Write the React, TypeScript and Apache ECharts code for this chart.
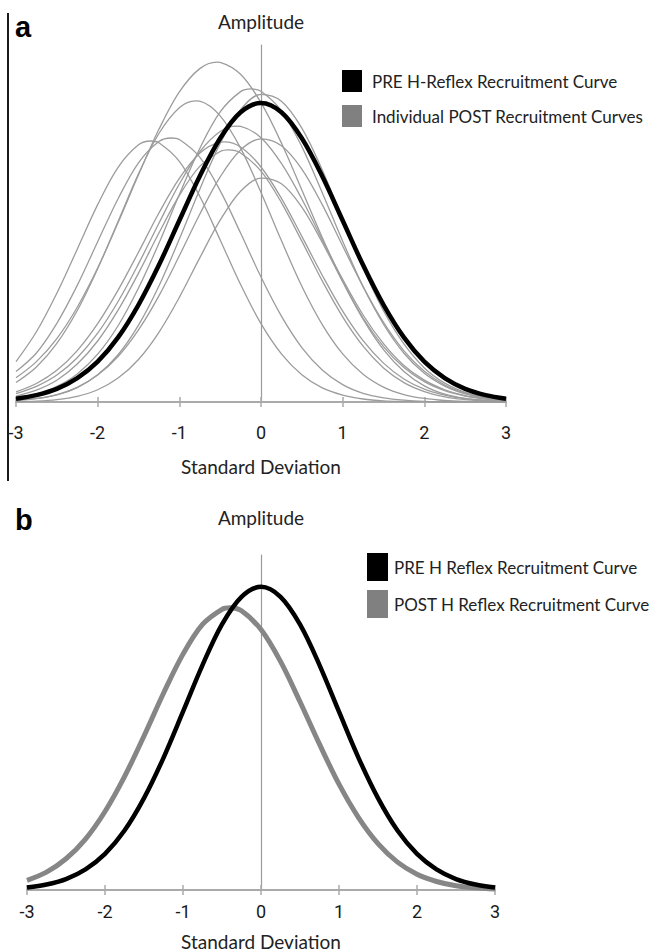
import React, { useEffect, useRef } from 'react';
import * as echarts from 'echarts';

const xValues = [-3, -2.75, -2.5, -2.25, -2, -1.75, -1.5, -1.25, -1, -0.75, -0.5, -0.25, 0, 0.25, 0.5, 0.75, 1, 1.25, 1.5, 1.75, 2, 2.25, 2.5, 2.75, 3];

// Panel a: amplitude relative to PRE peak (=100)
const preTop = [1.1, 2.3, 4.4, 8.0, 13.5, 21.6, 32.5, 45.8, 60.7, 75.5, 88.2, 96.9, 100, 96.9, 88.2, 75.5, 60.7, 45.8, 32.5, 21.6, 13.5, 8.0, 4.4, 2.3, 1.1];
const postTop1 = [8.1, 13.5, 21.2, 31.7, 44.8, 60.0, 76.0, 91.2, 103.7, 111.5, 113.6, 109.6, 100.1, 86.6, 70.9, 55.0, 40.4, 28.1, 18.5, 11.5, 6.8, 3.8, 2.0, 1.0, 0.5];
const postTop2 = [1.3, 2.7, 5.2, 9.4, 16.0, 25.5, 38.1, 53.1, 69.4, 84.8, 97.0, 103.8, 103.9, 97.4, 85.4, 70.0, 53.8, 38.6, 26.0, 16.3, 9.6, 5.3, 2.7, 1.3, 0.6];
const postTop3 = [0.5, 1.1, 2.4, 4.8, 9.1, 15.8, 25.7, 38.8, 54.5, 71.1, 86.5, 97.8, 102.9, 100.6, 91.6, 77.6, 61.1, 44.8, 30.5, 19.4, 11.4, 6.3, 3.2, 1.5, 0.7];
const postTop4 = [6.5, 11.7, 19.6, 30.6, 44.6, 60.4, 76.3, 89.8, 98.4, 100.6, 95.7, 84.9, 70.1, 54.0, 38.7, 25.9, 16.1, 9.3, 5.0, 2.5, 1.2, 0.5, 0.2, 0.1, 0.0];
const postTop5 = [2.8, 5.2, 9.0, 14.8, 23.0, 33.6, 46.2, 59.8, 72.9, 83.7, 90.5, 92.2, 88.4, 79.8, 67.9, 54.3, 41.0, 29.1, 19.5, 12.2, 7.3, 4.1, 2.1, 1.1, 0.5];
const postTop6 = [13.5, 23.5, 36.4, 51.1, 66.0, 78.5, 86.0, 86.7, 80.5, 68.8, 54.2, 39.3, 26.2, 16.1, 9.1, 4.7, 2.3, 1.0, 0.4, 0.2, 0.1, 0, 0, 0, 0];
const postTop7 = [10.2, 16.4, 26.3, 39.0, 53.6, 68.0, 80.0, 87.1, 87.8, 81.9, 70.7, 56.5, 41.8, 28.7, 18.2, 10.7, 5.8, 2.9, 1.4, 0.6, 0.2, 0.1, 0, 0, 0];
const postTop8 = [0.5, 1.2, 2.5, 4.9, 9.0, 15.2, 24.1, 35.5, 48.9, 62.8, 75.3, 84.3, 88.0, 85.7, 77.9, 66.0, 52.2, 38.6, 26.6, 17.1, 10.3, 5.7, 3.0, 1.5, 0.7];
const postTop9 = [3.4, 6.2, 10.6, 17.2, 26.2, 37.4, 50.1, 63.2, 74.8, 83.2, 86.9, 85.3, 78.6, 68.1, 55.4, 42.4, 30.4, 20.5, 13.0, 7.7, 4.3, 2.3, 1.1, 0.5, 0.2];
const postTop10 = [2.0, 4.0, 7.3, 12.7, 20.4, 30.7, 43.1, 56.5, 69.1, 78.8, 83.8, 83.3, 77.2, 66.7, 53.8, 40.5, 28.5, 18.7, 11.4, 6.5, 3.5, 1.7, 0.8, 0.3, 0.1];
const postTop11 = [0.1, 0.3, 0.8, 1.9, 4.1, 8.0, 14.2, 23.3, 35.0, 48.2, 60.8, 70.5, 74.9, 73.0, 65.2, 53.4, 40.2, 27.7, 17.5, 10.2, 5.4, 2.6, 1.2, 0.5, 0.2];

// Peak (x, amplitude) of each POST curve (null = peak already on a sample)
const postTopPeakX = [-0.54, -0.12, null, -0.8, -0.3, -1.35, -1.1, null, -0.45, -0.4, null];
const postTopPeakY = [113.7, 104.7, null, 100.7, 92.3, 87.3, 88.3, null, 87.0, 84.3, null];

// Panel b
const preBottom = [0.8, 1.8, 3.6, 6.8, 11.9, 19.6, 30.3, 43.6, 58.8, 74.2, 87.6, 96.7, 100, 96.7, 87.6, 74.2, 58.8, 43.6, 30.3, 19.6, 11.9, 6.8, 3.6, 1.8, 0.8];
const postBottom = [3.2, 5.9, 10.3, 16.8, 25.9, 37.4, 50.8, 64.9, 77.8, 87.6, 92.6, 92.1, 85.9, 75.4, 62.1, 48.1, 34.9, 23.9, 15.3, 9.2, 5.2, 2.8, 1.4, 0.7, 0.3];
const postBottomPeakX = -0.4;
const postBottomPeakY = 93.1;

const legendTop = ['PRE H-Reflex Recruitment Curve', 'Individual POST Recruitment Curves'];
const legendBottom = ['PRE H Reflex Recruitment Curve', 'POST H Reflex Recruitment Curve'];
const panelLabels = ['a', 'b'];
const xName = 'Standard Deviation';
const yName = 'Amplitude';

const TEXT_FONT = "Lato, 'Open Sans', sans-serif";
const NUM_FONT = "Roboto, 'Liberation Sans', sans-serif";
const AXIS_GRAY = '#aaaaaa';
const THIN_GRAY = '#9c9c9c';
const SMOOTH = 0.34;

function pairs(ys: number[], px: number | null = null, py: number | null = null) {
  const pts = xValues.map((x, i) => [x, ys[i]]);
  if (px !== null && py !== null) {
    pts.push([px, py]);
    pts.sort((a, b) => a[0] - b[0]);
  }
  return pts;
}

function xAxes(gridIndex: number, labelMargin: number, nameGap: number) {
  return [
    {
      gridIndex,
      type: 'value',
      min: -3,
      max: 3,
      interval: 1,
      name: xName,
      nameLocation: 'middle',
      nameGap,
      nameMoveOverlap: false,
      nameTextStyle: { fontFamily: TEXT_FONT, fontSize: 19, color: '#222' },
      axisLine: { onZero: false, lineStyle: { color: AXIS_GRAY, width: 2 } },
      axisTick: { show: true, length: 5, lineStyle: { color: AXIS_GRAY, width: 1.5 } },
      axisLabel: { margin: labelMargin, fontFamily: NUM_FONT, fontSize: 18, color: '#1a1a1a' },
      splitLine: { show: false },
    },
    {
      gridIndex,
      type: 'value',
      min: -3,
      max: 3,
      interval: 1,
      position: 'bottom',
      axisLine: { show: false, onZero: false },
      axisTick: { show: true, inside: true, length: 5, lineStyle: { color: AXIS_GRAY, width: 1.5 } },
      axisLabel: { show: false },
      splitLine: { show: false },
    },
  ];
}

function yAxis(gridIndex: number, max: number, nameGap: number) {
  return {
    gridIndex,
    type: 'value',
    min: 0,
    max,
    name: yName,
    nameLocation: 'end',
    nameGap,
    nameTextStyle: { fontFamily: TEXT_FONT, fontSize: 19, color: '#222', align: 'center' },
    axisLine: { show: true, onZero: true, lineStyle: { color: '#9a9a9a', width: 1.2 } },
    axisTick: { show: false },
    axisLabel: { show: false },
    splitLine: { show: false },
  };
}

function lineSeries(name: string, xi: number, yi: number, data: number[][], color: string, width: number, legendColor: string, z: number) {
  return {
    type: 'line',
    name,
    xAxisIndex: xi,
    yAxisIndex: yi,
    data,
    smooth: SMOOTH,
    showSymbol: false,
    symbol: 'none',
    lineStyle: { color, width },
    itemStyle: { color: legendColor },
    z,
  };
}

export default function App() {
  const ref = useRef<HTMLDivElement>(null);

  useEffect(() => {
    if (!ref.current) return;
    const chart = echarts.init(ref.current, null, { renderer: 'svg' });
    const postTop = [postTop1, postTop2, postTop3, postTop4, postTop5, postTop6, postTop7, postTop8, postTop9, postTop10, postTop11];

    const series: any[] = postTop.map((ys, i) =>
      lineSeries(legendTop[1], 0, 0, pairs(ys, postTopPeakX[i], postTopPeakY[i]), THIN_GRAY, 1.3, '#808080', 2)
    );
    series.push(lineSeries(legendTop[0], 0, 0, pairs(preTop), '#000', 4.5, '#000', 3));
    series.push(lineSeries(legendBottom[1], 2, 1, pairs(postBottom, postBottomPeakX, postBottomPeakY), '#868686', 5, '#808080', 2));
    series.push(lineSeries(legendBottom[0], 2, 1, pairs(preBottom), '#000', 4.5, '#000', 3));

    const option: any = {
      animation: false,
      backgroundColor: '#ffffff',
      grid: [
        { left: 16, top: 45, width: 490, height: 357 },
        { left: 27, top: 555, width: 468, height: 337 },
      ],
      xAxis: [...xAxes(0, 21, 55), ...xAxes(1, 12, 42)],
      yAxis: [yAxis(0, 119.4, 14), yAxis(1, 110.5, 28)],
      legend: [
        {
          data: [
            { name: legendTop[0], itemStyle: { color: '#000' } },
            { name: legendTop[1], itemStyle: { color: '#808080' } },
          ],
          orient: 'vertical',
          left: 342,
          top: 70,
          padding: 0,
          icon: 'rect',
          itemWidth: 20,
          itemHeight: 22,
          itemGap: 13,
          selectedMode: false,
          itemStyle: { borderWidth: 0 },
          textStyle: { fontFamily: TEXT_FONT, fontSize: 17, color: '#222', padding: [0, 0, 0, 5] },
        },
        {
          data: [
            { name: legendBottom[0], itemStyle: { color: '#000' } },
            { name: legendBottom[1], itemStyle: { color: '#808080' } },
          ],
          orient: 'vertical',
          left: 367,
          top: 553,
          padding: 0,
          icon: 'rect',
          itemWidth: 21,
          itemHeight: 28,
          itemGap: 9,
          selectedMode: false,
          itemStyle: { borderWidth: 0 },
          textStyle: { fontFamily: TEXT_FONT, fontSize: 17, color: '#222', padding: [0, 0, 0, 1] },
        },
      ],
      graphic: [
        {
          type: 'line',
          shape: { x1: 8, y1: 13, x2: 8, y2: 481 },
          style: { stroke: '#000', lineWidth: 1.8 },
        },
        {
          type: 'text',
          left: 15,
          top: 12,
          style: { text: panelLabels[0], font: "bold 29px 'Liberation Sans', Arial, sans-serif", fill: '#000' },
        },
        {
          type: 'text',
          left: 15,
          top: 505,
          style: { text: panelLabels[1], font: "bold 29px 'Liberation Sans', Arial, sans-serif", fill: '#000' },
        },
      ],
      series,
    };

    chart.setOption(option);
    return () => chart.dispose();
  }, []);

  return (
    <div
      ref={ref}
      style={{ position: 'absolute', left: 0, top: 0, width: 654, height: 952, background: '#fff' }}
    />
  );
}
